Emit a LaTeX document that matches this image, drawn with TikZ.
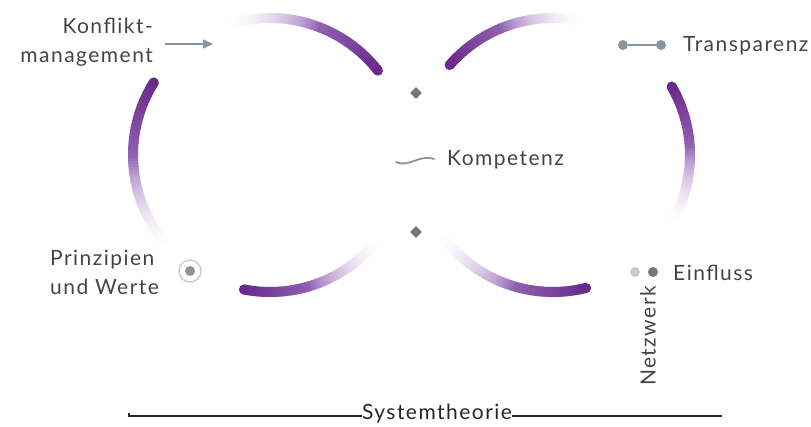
\documentclass[tikz,border=0pt]{standalone}
\usepackage{fontspec}
\setmainfont{Lato}[LetterSpace=7]
\usetikzlibrary{arrows.meta,shapes.geometric}

\definecolor{arcdark}{HTML}{6A2A8C}
\definecolor{arclight}{HTML}{9C70BC}
\definecolor{txt}{HTML}{444444}
\definecolor{icon}{HTML}{8A949E}
\definecolor{icondark}{HTML}{777777}
\definecolor{iconlight}{HTML}{C8CACD}

% arc that fades from white (angle #3) to solid purple (angle #4), with a round cap at the solid end
\newcommand{\gradarc}[4]{%
  \foreach \i in {0,...,59} {
    \pgfmathsetmacro\aa{#3+(#4-#3)*\i/60}
    \pgfmathsetmacro\bb{#3+(#4-#3)*(\i+1.4)/60}
    \pgfmathsetmacro\tt{(\i+1)/60}
    \pgfmathsetmacro\pw{min(100,100*(\tt*1.75)^1.8)}
    \pgfmathsetmacro\pd{max(0,min(100,100*(\tt-0.45)/0.55))}
    \colorlet{segc}{arcdark!\pd!arclight}
    \draw[line width=10pt, line cap=butt, segc!\pw!white] (#1,#2) ++(\aa:137) arc[start angle=\aa, end angle=\bb, radius=137];
  }
  \fill[arcdark] (#1,#2) ++(#4:137) circle[radius=5];
}

\tikzset{
  lbl/.style={text=txt, font=\fontsize{21}{29}\selectfont, inner sep=0pt},
  diam/.style={diamond, fill=icondark, minimum size=12pt, inner sep=0pt},
  dot/.style={circle, inner sep=0pt, minimum size=10pt},
  baseline/.style={line width=1.6pt, draw=black!85}
}

\begin{document}
\begin{tikzpicture}[x=1pt,y=1pt]
\useasboundingbox (0,0) rectangle (811,426);

% left ring
\gradarc{270}{271}{108}{38}
\gradarc{270}{271}{222}{148}
\gradarc{270}{271}{322}{259}
% right ring
\gradarc{553}{271}{78}{139}
\gradarc{553}{271}{-30}{30}
\gradarc{553}{271}{215}{284}

% centre markers
\node[diam] (d1) at (416,333) {};
\node[diam] (d2) at (416,194) {};

% Konfliktmanagement
\node[lbl, align=right, anchor=east] (konf) at (153,384) {Konflikt-\\management};
\coordinate (arrS) at (165,382);
\coordinate (arrE) at (213,382);
\draw[icon, line width=1.6pt, -{Triangle[length=10pt,width=9pt]}] (arrS) -- (arrE);

% Transparenz
\node[dot, fill=icon] (t1) at (623,381) {};
\node[dot, fill=icon] (t2) at (661,381) {};
\draw[icon, line width=1.4pt] (t1) -- (t2);
\node[lbl, anchor=west] (transp) at (683,380) {Transparenz};

% Kompetenz
\coordinate (w1) at (396,264);
\coordinate (w2) at (434,267);
\draw[icon, line width=1.8pt, line cap=round] (w1) .. controls (410,258) and (418,272) .. (w2);
\node[lbl, anchor=west] (komp) at (447,266) {Kompetenz};

% Prinzipien und Werte
\node[lbl, align=left, anchor=west] (prin) at (50,154) {Prinzipien\\und Werte};
\node[circle, draw=iconlight, line width=1.3pt, minimum size=22pt, inner sep=0pt] (tgt) at (190,155) {};
\fill[icon] (tgt.center) circle[radius=5];

% Einfluss / Netzwerk
\node[dot, fill=iconlight] (e1) at (635,154) {};
\node[dot, fill=icondark] (e2) at (653,154) {};
\node[lbl, anchor=west] (einf) at (673,153) {Einfluss};
\node[lbl, rotate=90] (netz) at (648,90) {Netzwerk};

% Systemtheorie axis
\node[lbl, text=black!85] (sys) at (437,12) {Systemtheorie};
\coordinate (sysL) at (129,10);
\coordinate (sysR) at (722,10);
\draw[baseline] ([yshift=3pt]sysL) -- (sysL) -- (sys.west |- sysL);
\draw[baseline] (sys.east |- sysR) -- (sysR);
\end{tikzpicture}
\end{document}
